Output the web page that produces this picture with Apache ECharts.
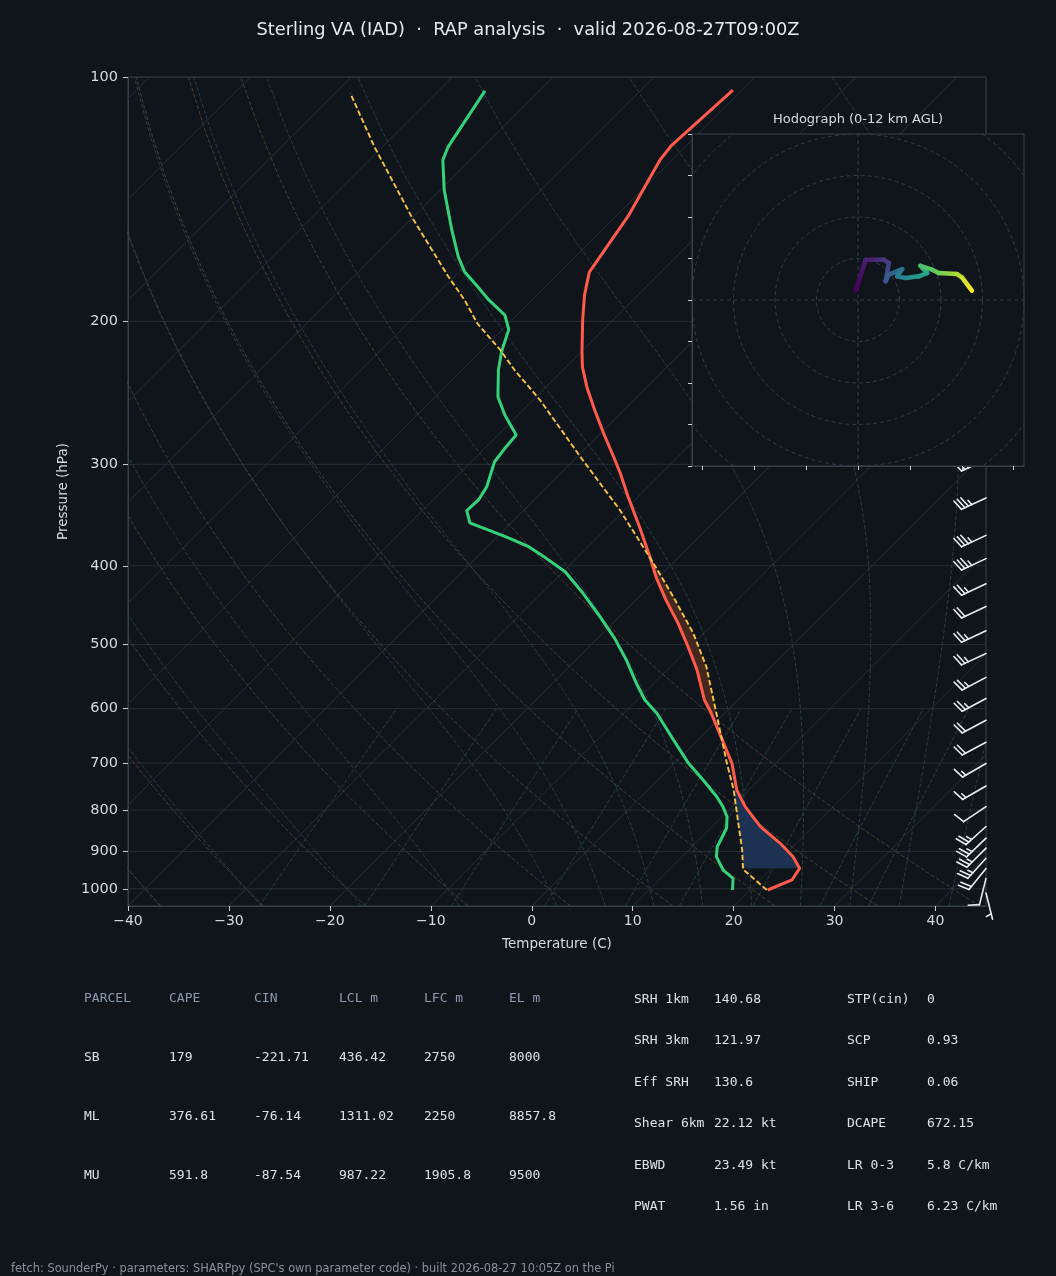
<!DOCTYPE html>
<html><head><meta charset="utf-8">
<script src="https://cdn.jsdelivr.net/npm/echarts@6/dist/echarts.min.js"></script>
<style>html,body{margin:0;padding:0;background:#10151b;}#c{width:1056px;height:1276px;}</style>
</head><body><div id="c"></div>
<script>
// ---------------- data ----------------
const titleText = 'Sterling VA (IAD)  \u00b7  RAP analysis  \u00b7  valid 2026-08-27T09:00Z';
const footerText = "fetch: SounderPy \u00b7 parameters: SHARPpy (SPC's own parameter code) \u00b7 built 2026-08-27 10:05Z on the Pi";
const hodoTitle = 'Hodograph (0-12 km AGL)';

const pressureTicks = [100, 200, 300, 400, 500, 600, 700, 800, 900, 1000];
const tempTicks = [-40, -30, -20, -10, 0, 10, 20, 30, 40];

// environmental temperature (C) at pressure (hPa)
const tempP = [1003.4, 975.3, 943.6, 912.9, 879.0, 838.5, 792.2, 755.3, 700.6, 661.9, 607.9, 585.4, 537.7, 503.3, 471.0, 441.0, 412.8, 389.9, 358.1, 328.9, 307.7, 293.6, 274.8, 257.2, 240.7, 227.5, 218.2, 199.3, 185.6, 173.9, 148.3, 126.6, 121.6, 103.8];
const tempT = [21.8, 23.2, 22.8, 21.0, 18.4, 14.8, 11.3, 8.8, 5.7, 2.9, -1.3, -3.3, -7.0, -10.2, -13.5, -17.0, -20.3, -22.9, -26.9, -31.0, -34.1, -36.4, -39.7, -42.9, -46.0, -48.4, -49.9, -53.0, -55.3, -57.1, -58.8, -61.2, -61.5, -60.9];

// dewpoint (C)
const dewP = [1003.4, 970.7, 948.2, 912.9, 887.5, 842.3, 815.1, 792.2, 770.1, 734.6, 700.6, 655.7, 607.9, 585.4, 558.3, 522.6, 491.5, 462.2, 432.5, 406.9, 391.7, 378.9, 368.3, 354.1, 342.2, 331.9, 319.6, 309.2, 297.8, 286.7, 276.1, 260.9, 247.7, 229.6, 218.0, 204.6, 196.5, 188.2, 181.3, 173.7, 166.5, 154.3, 137.8, 126.6, 121.9, 104.0];
const dewT = [18.3, 17.2, 15.4, 13.4, 12.5, 11.6, 10.5, 9.1, 7.5, 4.5, 1.4, -2.4, -6.7, -9.2, -11.7, -15.0, -18.3, -21.9, -25.9, -29.8, -33.0, -35.9, -39.2, -44.1, -45.6, -45.5, -46.0, -46.8, -47.7, -48.0, -48.2, -51.3, -53.8, -56.4, -57.9, -59.4, -61.2, -64.3, -66.7, -69.5, -71.6, -74.9, -79.6, -82.7, -83.5, -85.4];

// surface parcel path (C)
const parcelP = [1003.4, 946.3, 895.9, 822.8, 755.3, 700.6, 607.9, 585.4, 532.7, 484.6, 436.9, 397.2, 341.5, 293.6, 250.0, 229.6, 216.9, 201.2, 188.2, 176.2, 148.6, 121.9, 104.7];
const parcelT = [21.7, 17.3, 15.3, 11.9, 8.5, 5.2, -0.8, -2.4, -6.4, -11.0, -16.6, -21.9, -30.5, -39.7, -49.3, -54.8, -58.2, -63.1, -66.7, -70.6, -80.2, -90.8, -98.5];

// shaded layers (hPa): CIN and CAPE bounds
const cinLayer = [943.6, 757];
const capeLayer = [607, 390];

// wind barbs
const barbP = [296, 330, 367, 392, 421, 449, 481, 513, 549, 583, 620, 660, 701, 747, 792, 838, 866, 891, 917, 944, 971, 1012];
const barbDir = [245, 245, 245, 245, 245, 245, 245, 245, 242, 242, 242, 242, 240, 240, 236, 228, 226, 225, 222, 219, 194, 166];
const barbSpd = [35, 35, 35, 35, 25, 20, 25, 25, 25, 25, 20, 20, 15, 15, 10, 25, 25, 25, 25, 20, 10, 5];

// hodograph (kt) and height (km AGL)
const hodoU = [-1.1, 3.7, 12.5, 14.9, 13.3, 14.9, 21.3, 18.9, 22.9, 29.3, 33.3, 30.1, 35.7, 38.9, 47.7, 50.1, 54.9];
const hodoV = [4.5, 19.4, 19.4, 17.8, 9.0, 12.2, 14.9, 11.4, 10.6, 11.4, 13.0, 16.5, 14.6, 13.0, 12.5, 10.9, 4.5];
const hodoH = [0, 1.0, 1.8, 2.3, 3.0, 3.5, 4.5, 5.0, 5.5, 6.5, 7.0, 8.3, 8.8, 9.3, 10.5, 11.0, 12.0];
const hodoRings = [20, 40, 60, 80, 100, 120];
const hodoXTicks = [-75, -50, -25, 0, 25, 50, 75];
const hodoYTicks = [-80, -60, -40, -20, 0, 20, 40, 60, 80];

// parameter tables
const parcelHeader = ['PARCEL', 'CAPE', 'CIN', 'LCL m', 'LFC m', 'EL m'];
const parcelNames = ['SB', 'ML', 'MU'];
const parcelCape = ['179', '376.61', '591.8'];
const parcelCin = ['-221.71', '-76.14', '-87.54'];
const parcelLcl = ['436.42', '1311.02', '987.22'];
const parcelLfc = ['2750', '2250', '1905.8'];
const parcelEl = ['8000', '8857.8', '9500'];
const paramLabels1 = ['SRH 1km', 'SRH 3km', 'Eff SRH', 'Shear 6km', 'EBWD', 'PWAT'];
const paramValues1 = ['140.68', '121.97', '130.6', '22.12 kt', '23.49 kt', '1.56 in'];
const paramLabels2 = ['STP(cin)', 'SCP', 'SHIP', 'DCAPE', 'LR 0-3', 'LR 3-6'];
const paramValues2 = ['0', '0.93', '0.06', '672.15', '5.8 C/km', '6.23 C/km'];

// ---------------- layout / style ----------------
const BG = '#10151b';
const SPINE = '#36404b';
const TICK = '#c9ced5';
const LABEL = '#d6dae0';
const FONT = 'DejaVu Sans';
const MONO = 'DejaVu Sans Mono';
const G = {left: 128, top: 77, width: 858, height: 829};
const HG = {left: 692, top: 134, width: 332, height: 332};
const XMIN = -40, XMAX = 45, PTOP = 100, PBOT = 1050;
const K = (G.height / Math.log10(PBOT / PTOP)) / (G.width / (XMAX - XMIN)); // 45-degree skew
function sx(T, p) { return T + K * Math.log10(PBOT / p); }

// thermodynamic reference lines
const Rd = 287.04749, Cp = 1004.6662, Lv = 2.50084e6, EPS = 0.6219569;
function es(Tk) { const tc = Tk - 273.15; return 6.112 * Math.exp(17.67 * tc / (tc + 243.5)); }
function dTdp(p, T) { const e = es(T); const rs = EPS * e / (p - e); return (Rd * T + Lv * rs) / (p * (Cp + Lv * Lv * rs * EPS / (Rd * T * T))); }
function moistStep(T, p0, p1) {
  const n = Math.max(1, Math.ceil(Math.abs(p1 - p0) / 2)); const h = (p1 - p0) / n; let p = p0;
  for (let i = 0; i < n; i++) {
    const k1 = dTdp(p, T), k2 = dTdp(p + h / 2, T + h * k1 / 2), k3 = dTdp(p + h / 2, T + h * k2 / 2), k4 = dTdp(p + h, T + h * k3);
    T += h * (k1 + 2 * k2 + 2 * k3 + k4) / 6; p += h;
  }
  return T;
}
const refP = []; for (let i = 0; i <= 60; i++) refP.push(PBOT - (PBOT - PTOP) * i / 60);
const dryT0 = [-40, -30, -20, -10, 0, 10, 20, 30, 40];
const moistT0 = [-40, -30, -20, -10, 0, 5, 10, 15, 20, 25, 30, 35, 40, 45];
const mixW = [0.0004, 0.001, 0.002, 0.004, 0.007, 0.01, 0.016, 0.024, 0.032];

function lineSeries(pts, color, width, type, z, xi, yi) {
  return {type: 'line', xAxisIndex: xi || 0, yAxisIndex: yi || 0, data: pts, symbol: 'none', showSymbol: false,
    silent: true, animation: false, clip: true, z: z, lineStyle: {color: color, width: width, type: type}};
}
const series = [];
// isobars
pressureTicks.forEach(p => series.push(lineSeries([[XMIN, p], [XMAX, p]], '#262e37', 1, 'solid', 1)));
// isotherms
for (let T = -160; T <= 40; T += 10) series.push(lineSeries([[sx(T, PBOT), PBOT], [sx(T, PTOP), PTOP]], '#262e37', 1, 'solid', 1));
// dry adiabats
dryT0.forEach(t0 => series.push(lineSeries(refP.map(p => [sx((t0 + 273.15) * Math.pow(p / 1000, Rd / Cp) - 273.15, p), p]), '#4a3f2d', 1, [4, 2], 1)));
// moist adiabats
moistT0.forEach(t0 => {
  const pts = []; let T = t0 + 273.15; let pPrev = 1000;
  const downP = refP.filter(p => p > 1000); const upP = refP.filter(p => p <= 1000);
  downP.forEach(p => { const Tp = moistStep(t0 + 273.15, 1000, p); pts.push([sx(Tp - 273.15, p), p]); });
  upP.forEach(p => { T = moistStep(T, pPrev, p); pPrev = p; pts.push([sx(T - 273.15, p), p]); });
  series.push(lineSeries(pts, '#253e49', 1, [4, 2], 1));
});
// mixing ratio lines
mixW.forEach(w => {
  const pts = [];
  for (let i = 0; i <= 20; i++) { const p = PBOT - (PBOT - 600) * i / 20; const e = p * w / (EPS + w); const l = Math.log(e / 6.112); pts.push([sx(243.5 * l / (17.67 - l), p), p]); }
  series.push(lineSeries(pts, '#23443f', 1, [4, 2], 1));
});

// shaded CIN / CAPE layers
function interpAt(P, T, p) {
  for (let i = 0; i < P.length - 1; i++) {
    if (P[i] >= p && P[i + 1] <= p) { const f = (Math.log(P[i]) - Math.log(p)) / (Math.log(P[i]) - Math.log(P[i + 1])); return T[i] + f * (T[i + 1] - T[i]); }
  }
  return T[T.length - 1];
}
function seg(P, T, pBot, pTop) {
  const pts = [[interpAt(P, T, pBot), pBot]];
  for (let i = 0; i < P.length; i++) if (P[i] < pBot && P[i] > pTop) pts.push([T[i], P[i]]);
  pts.push([interpAt(P, T, pTop), pTop]);
  return pts;
}
function fillSeries(layer, color) {
  return {type: 'custom', xAxisIndex: 0, yAxisIndex: 0, silent: true, animation: false, z: 2, data: [[0, 500]],
    renderItem: (params, api) => {
      const a = seg(tempP, tempT, layer[0], layer[1]);
      const b = seg(parcelP, parcelT, layer[0], layer[1]).reverse();
      const pts = a.concat(b).map(q => api.coord([sx(q[0], q[1]), q[1]]));
      return {type: 'polygon', shape: {points: pts}, style: {fill: color}};
    }};
}
series.push(fillSeries(cinLayer, '#1d3152'));
series.push(fillSeries(capeLayer, '#45291f'));

// profiles
const tempSeries = lineSeries(tempP.map((p, i) => [sx(tempT[i], p), p]), '#ff5a4a', 3, 'solid', 3);
const dewSeries = lineSeries(dewP.map((p, i) => [sx(dewT[i], p), p]), '#34d27b', 3, 'solid', 3);
const parcelSeries = lineSeries(parcelP.map((p, i) => [sx(parcelT[i], p), p]), '#f6c445', 1.9, [5.5, 2.6], 3);
series.push(tempSeries, dewSeries, parcelSeries);

// wind barbs
series.push({
  type: 'custom', xAxisIndex: 0, yAxisIndex: 0, silent: true, animation: false, z: 4, clip: false,
  data: barbP.map((p, i) => [XMAX, p, barbDir[i], barbSpd[i]]),
  encode: {x: 0, y: 1},
  renderItem: (params, api) => {
    const base = api.coord([api.value(0), api.value(1)]);
    const dir = api.value(2) * Math.PI / 180; let s = Math.round(api.value(3) / 5) * 5;
    const L = 27, fh = 0.4 * L, fw = 0.25 * L, sp = 0.14 * L;
    const dx = Math.sin(dir), dy = -Math.cos(dir); const nx = -dy, ny = dx;
    const tx = base[0] + L * dx, ty = base[1] + L * dy;
    const st = {stroke: '#e8ebef', lineWidth: 1.6, lineCap: 'round'};
    const ch = [{type: 'line', shape: {x1: base[0], y1: base[1], x2: tx, y2: ty}, style: st}];
    const nFlag = Math.floor(s / 50); s -= nFlag * 50;
    const nFull = Math.floor(s / 10); s -= nFull * 10;
    const half = s >= 5;
    let off = 0;
    for (let k = 0; k < nFlag; k++) {
      const ax = tx - dx * off, ay = ty - dy * off; const bx = tx - dx * (off + fw), by = ty - dy * (off + fw);
      ch.push({type: 'polygon', shape: {points: [[ax, ay], [ax + nx * fh - dx * fw / 2, ay + ny * fh - dy * fw / 2], [bx, by]]}, style: {fill: '#e8ebef'}});
      off += fw + sp;
    }
    for (let k = 0; k < nFull; k++) {
      const ax = tx - dx * off, ay = ty - dy * off;
      ch.push({type: 'line', shape: {x1: ax, y1: ay, x2: ax + nx * fh + dx * fw / 2, y2: ay + ny * fh + dy * fw / 2}, style: st});
      off += sp;
    }
    if (half) {
      if (off === 0) off += 1.5 * sp;
      const ax = tx - dx * off, ay = ty - dy * off;
      ch.push({type: 'line', shape: {x1: ax, y1: ay, x2: ax + nx * fh / 2 + dx * fw / 4, y2: ay + ny * fh / 2 + dy * fw / 4}, style: st});
    }
    return {type: 'group', children: ch};
  }
});

// hodograph
series.push({
  type: 'custom', xAxisIndex: 1, yAxisIndex: 1, silent: true, animation: false, z: 10, data: [[0, 0]],
  renderItem: (params) => {
    const cs = params.coordSys;
    return {type: 'rect', shape: {x: cs.x, y: cs.y, width: cs.width, height: cs.height}, style: {fill: BG, stroke: SPINE, lineWidth: 1}};
  }
});
hodoRings.forEach(r => {
  const pts = []; for (let i = 0; i <= 180; i++) { const a = i * Math.PI / 90; pts.push([r * Math.cos(a), r * Math.sin(a)]); }
  series.push(lineSeries(pts, '#333c47', 1, [4, 3], 11, 1, 1));
});
series.push(lineSeries([[-80, 0], [80, 0]], '#333c47', 1, [4, 3], 11, 1, 1));
series.push(lineSeries([[0, -80], [0, 80]], '#333c47', 1, [4, 3], 11, 1, 1));

const VIR = ['#440154', '#472d7b', '#3b528b', '#2c728e', '#21918c', '#28ae80', '#5ec962', '#addc30', '#fde725'];
function hex(c) { return [1, 3, 5].map(i => parseInt(c.substr(i, 2), 16)); }
function viridis(t) {
  t = Math.max(0, Math.min(1, t)); const f = t * (VIR.length - 1); const i = Math.min(VIR.length - 2, Math.floor(f)); const u = f - i;
  const a = hex(VIR[i]), b = hex(VIR[i + 1]);
  return 'rgb(' + a.map((v, k) => Math.round(v + (b[k] - v) * u)).join(',') + ')';
}
const hodoSegs = [];
for (let i = 0; i < hodoU.length - 1; i++) hodoSegs.push([hodoU[i], hodoV[i], hodoU[i + 1], hodoV[i + 1], hodoH[i], hodoH[i + 1]]);
series.push({
  type: 'custom', xAxisIndex: 1, yAxisIndex: 1, silent: true, animation: false, z: 12,
  data: hodoSegs, encode: {x: [0, 2], y: [1, 3]},
  renderItem: (params, api) => {
    const a = api.coord([api.value(0), api.value(1)]), b = api.coord([api.value(2), api.value(3)]);
    const c0 = viridis(api.value(4) / 12), c1 = viridis(api.value(5) / 12);
    return {type: 'line', shape: {x1: a[0], y1: a[1], x2: b[0], y2: b[1]},
      style: {lineWidth: 4.5, lineCap: 'round', stroke: {type: 'linear', x: a[0], y: a[1], x2: b[0], y2: b[1], global: true,
        colorStops: [{offset: 0, color: c0}, {offset: 1, color: c1}]}}};
  }
});

// ---------------- text ----------------
const graphic = [];
function txt(x, y, s, fill, size, family, align) {
  graphic.push({type: 'text', x: x, y: y, silent: true, z: 20,
    style: {text: s, fill: fill, fontSize: size, fontFamily: family, align: align || 'left', verticalAlign: 'middle'}});
}
txt(858, 120, hodoTitle, LABEL, 13, FONT, 'center');
const colX = [84, 169, 254, 339, 424, 509];
const rowY = [999, 1058, 1117, 1176];
parcelHeader.forEach((h, j) => txt(colX[j], rowY[0], h, '#8c9bb0', 13, MONO));
const cols = [parcelNames, parcelCape, parcelCin, parcelLcl, parcelLfc, parcelEl];
parcelNames.forEach((n, i) => cols.forEach((c, j) => txt(colX[j], rowY[i + 1], c[i], '#dde1e6', 13, MONO)));
const rY = [1000, 1041, 1082.5, 1124, 1165.5, 1207];
paramLabels1.forEach((l, i) => {
  txt(634, rY[i], l, '#dde1e6', 13, MONO); txt(714, rY[i], paramValues1[i], '#dde1e6', 13, MONO);
  txt(847, rY[i], paramLabels2[i], '#dde1e6', 13, MONO); txt(927, rY[i], paramValues2[i], '#dde1e6', 13, MONO);
});
txt(11, 1269, footerText, '#87919e', 11.4, FONT);

const minus = v => (v < 0 ? '\u2212' + (-v) : '' + v);
const option = {
  backgroundColor: BG,
  animation: false,
  title: {text: titleText, left: 'center', top: 16, textStyle: {color: '#e6e9ee', fontSize: 17.8, fontWeight: 'normal', fontFamily: FONT}},
  grid: [
    {left: G.left, top: G.top, width: G.width, height: G.height, show: true, borderColor: SPINE, borderWidth: 1, backgroundColor: 'transparent'},
    {left: HG.left, top: HG.top, width: HG.width, height: HG.height, show: false}
  ],
  xAxis: [
    {gridIndex: 0, type: 'value', min: XMIN, max: XMAX,
      axisLine: {show: true, onZero: false, lineStyle: {color: SPINE}},
      axisTick: {show: true, customValues: tempTicks, length: 5, lineStyle: {color: TICK}},
      axisLabel: {customValues: tempTicks, formatter: minus, color: LABEL, fontSize: 14, fontFamily: FONT, margin: 8},
      splitLine: {show: false},
      name: 'Temperature (C)', nameLocation: 'middle', nameGap: 31, nameTextStyle: {color: LABEL, fontSize: 13.5, fontFamily: FONT}},
    {gridIndex: 1, type: 'value', min: -80, max: 80, z: 13,
      axisLine: {show: true, onZero: false, lineStyle: {color: SPINE}},
      axisTick: {show: true, customValues: hodoXTicks, length: 4, lineStyle: {color: TICK}},
      axisLabel: {show: false}, splitLine: {show: false}}
  ],
  yAxis: [
    {gridIndex: 0, type: 'log', logBase: 10, min: PTOP, max: PBOT, inverse: true,
      axisLine: {show: true, onZero: false, lineStyle: {color: SPINE}},
      axisTick: {show: true, customValues: pressureTicks, length: 5, lineStyle: {color: TICK}},
      axisLabel: {customValues: pressureTicks, formatter: v => String(Math.round(v)), color: LABEL, fontSize: 14.5, fontFamily: FONT, margin: 10},
      splitLine: {show: false}, minorTick: {show: false}, minorSplitLine: {show: false},
      name: 'Pressure (hPa)', nameLocation: 'middle', nameGap: 56, nameRotate: 90, nameTextStyle: {color: LABEL, fontSize: 13.5, fontFamily: FONT}},
    {gridIndex: 1, type: 'value', min: -80, max: 80, z: 13,
      axisLine: {show: true, onZero: false, lineStyle: {color: SPINE}},
      axisTick: {show: true, customValues: hodoYTicks, length: 4, lineStyle: {color: TICK}},
      axisLabel: {show: false}, splitLine: {show: false}}
  ],
  graphic: graphic,
  series: series
};
const chart = echarts.init(document.getElementById('c'), null, {renderer: 'canvas', width: 1056, height: 1276});
chart.setOption(option);
</script></body></html>
